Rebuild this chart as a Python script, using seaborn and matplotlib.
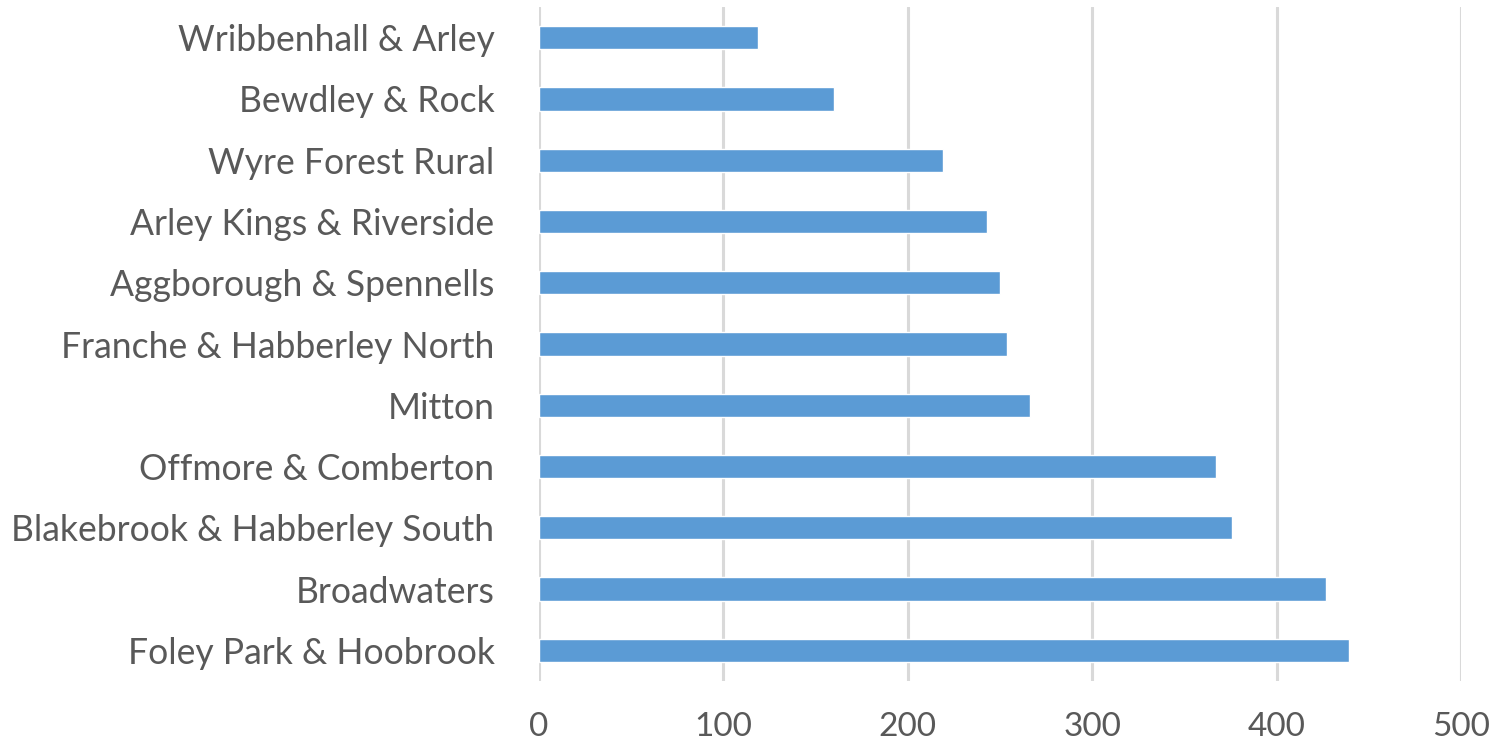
import matplotlib
matplotlib.use("Agg")
import matplotlib.pyplot as plt
import seaborn as sns
import pandas as pd

categories = ["Wribbenhall & Arley", "Bewdley & Rock", "Wyre Forest Rural",
              "Arley Kings & Riverside", "Aggborough & Spennells",
              "Franche & Habberley North", "Mitton", "Offmore & Comberton",
              "Blakebrook & Habberley South", "Broadwaters", "Foley Park & Hoobrook"]
values = [119, 160, 219, 243, 250, 254, 266, 367, 376, 427, 439]
x_ticks = [0, 100, 200, 300, 400, 500]

df = pd.DataFrame({"ward": categories, "value": values})

sns.set_theme(style="white")
plt.rcParams['font.family'] = ['Lato', 'DejaVu Sans']

fig = plt.figure(figsize=(15.06, 7.49), dpi=100)
ax = fig.add_axes([539/1506, 1-681/749, (1461-539)/1506, (681-7)/749])

sns.barplot(data=df, x="value", y="ward", color="#5b9bd5", saturation=1,
            width=0.38, ax=ax, zorder=3)

ax.set_xlim(0, 500)
ax.set_ylim(10.5, -0.5)
ax.set_xticks(x_ticks)
ax.set_xticklabels([str(t) for t in x_ticks])
ax.xaxis.grid(True, color="#d9d9d9", linewidth=2.2, zorder=0)
ax.set_axisbelow(True)
for s in ax.spines.values():
    s.set_visible(False)
ax.set_xlabel("")
ax.set_ylabel("")
ax.tick_params(axis="x", length=13, width=2.2, color="#d9d9d9", pad=9,
               labelsize=24, labelcolor="#595959")
ax.tick_params(axis="y", length=0, pad=32, labelsize=25.6, labelcolor="#595959")

fig.savefig("out.png", dpi=100)
